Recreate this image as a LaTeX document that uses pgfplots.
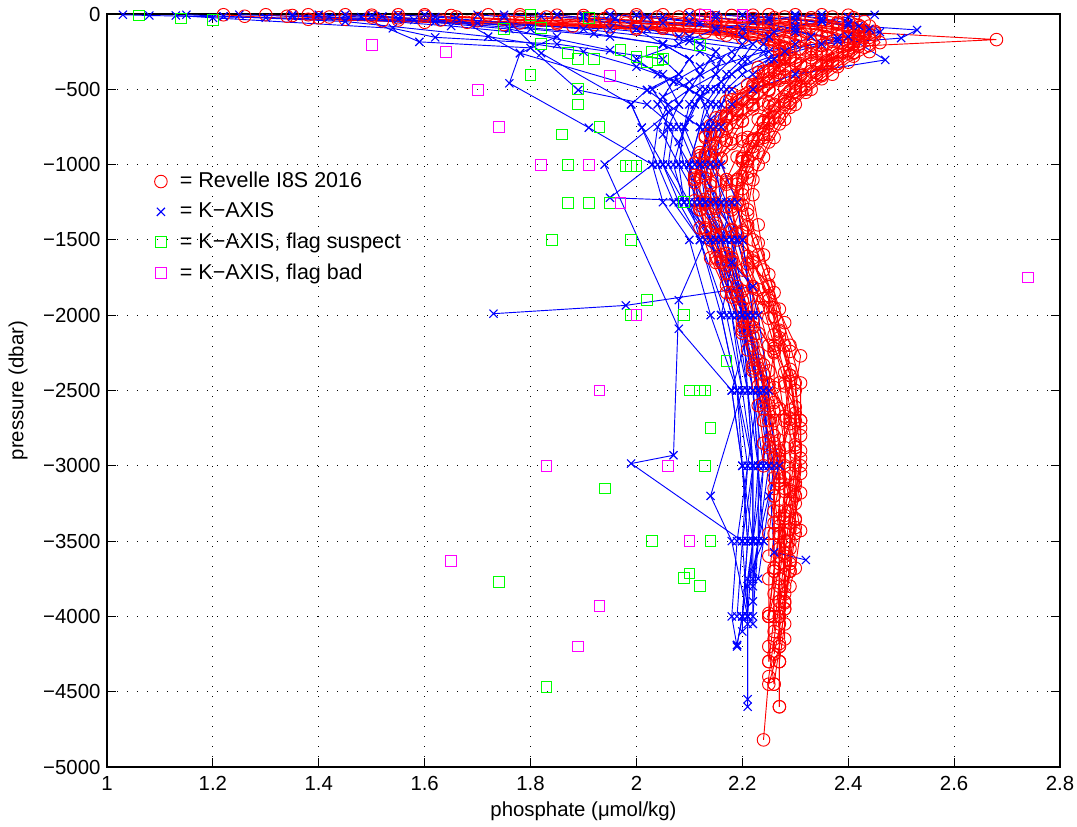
\documentclass[border=0pt]{standalone}
\usepackage{fontspec}
\setmainfont{Liberation Sans}
\usepackage{pgfplots}
\pgfplotsset{compat=1.18}
\definecolor{mred}{rgb}{1,0,0}
\definecolor{mblue}{rgb}{0,0,1}
\definecolor{mgreen}{rgb}{0,1,0}
\definecolor{mmag}{rgb}{1,0,1}
\begin{document}
\begin{tikzpicture}
\useasboundingbox (-57.78pt,-32.4pt) rectangle (523.8pt,414.18pt);
\begin{axis}[
  at={(0pt,0pt)}, anchor=south west,
  scale only axis, width=514.62pt, height=406.62pt,
  xmin=1, xmax=2.8, ymin=-5000, ymax=0,
  xtick={1,1.2,1.4,1.6,1.8,2,2.2,2.4,2.6,2.8},
  xticklabels={1,1.2,1.4,1.6,1.8,2,2.2,2.4,2.6,2.8},
  ytick={-5000,-4500,-4000,-3500,-3000,-2500,-2000,-1500,-1000,-500,0},
  yticklabels={−5000,−4500,−4000,−3500,−3000,−2500,−2000,−1500,−1000,−500,0},
  tick label style={font=\fontsize{11}{13}\selectfont},
  label style={font=\fontsize{11}{13}\selectfont},
  tick align=inside, major tick length=5pt,
  every tick/.style={black, line width=0.5pt},
  axis line style={black, line width=0.6pt},
  xticklabel style={yshift=-1.5pt},
  grid=major,
  major grid style={black, line width=0.5pt, dash pattern=on 0.55pt off 4.85pt},
  xlabel={phosphate (μmol/kg)},
  ylabel={pressure (dbar)},
  xlabel style={at={(axis description cs:0.5,-0.0585)}, anchor=center},
  ylabel style={at={(axis description cs:-0.0933,0.5)}, anchor=center, rotate=0},
  legend style={at={(0.042,0.80)}, anchor=north west, draw=none, fill=none, row sep=2.6pt, font=\fontsize{11.6}{13.5}\selectfont},
  legend cell align=left,
  legend image code/.code={\draw[#1] plot coordinates {(0pt,0pt)}; \path (-4pt,0pt) (8pt,0pt);},
  rp/.style={mred, line width=0.5pt, mark=o, mark size=3.4pt, mark options={solid, line width=0.5pt}, forget plot},
  bp/.style={mblue, line width=0.5pt, mark=x, mark size=3.1pt, mark options={solid, line width=0.6pt}, forget plot},
]
\addlegendimage{only marks, mred, mark=o, mark size=3.4pt, line width=0.5pt}
\addlegendentry{= Revelle I8S 2016}
\addlegendimage{only marks, mblue, mark=x, mark size=3.1pt, line width=0.6pt}
\addlegendentry{= K−AXIS}
\addlegendimage{only marks, mgreen, mark=square, mark size=2.9pt, line width=0.5pt}
\addlegendentry{= K−AXIS, flag suspect}
\addlegendimage{only marks, mmag, mark=square, mark size=2.9pt, line width=0.5pt}
\addlegendentry{= K−AXIS, flag bad}

% ---------------- Revelle I8S 2016 ----------------
\addplot[rp] coordinates {(2.05,-5)(2.08,-20)(2.15,-45)(2.30,-70)(2.38,-100)(2.42,-130)(2.44,-170)(2.43,-220)(2.41,-280)(2.38,-350)(2.35,-430)(2.32,-520)(2.29,-620)(2.27,-730)(2.25,-850)(2.23,-1000)(2.22,-1200)(2.23,-1400)(2.24,-1600)(2.26,-1850)(2.27,-2100)(2.29,-2400)(2.30,-2700)(2.30,-3000)(2.29,-3300)(2.28,-3600)(2.27,-3900)(2.27,-4180)};
\addplot[rp] coordinates {(2.12,-8)(2.15,-25)(2.25,-50)(2.36,-80)(2.42,-110)(2.45,-140)(2.46,-190)(2.44,-250)(2.40,-320)(2.37,-400)(2.33,-500)(2.30,-600)(2.28,-700)(2.26,-820)(2.24,-950)(2.22,-1100)(2.21,-1300)(2.22,-1500)(2.24,-1700)(2.26,-1950)(2.28,-2200)(2.30,-2450)(2.31,-2750)(2.31,-3050)(2.30,-3350)(2.29,-3650)(2.28,-3950)(2.27,-4200)(2.25,-4450)};
\addplot[rp] coordinates {(2.25,-5)(2.28,-20)(2.33,-40)(2.38,-65)(2.41,-95)(2.43,-130)(2.42,-180)(2.40,-240)(2.37,-310)(2.34,-390)(2.31,-480)(2.28,-580)(2.26,-690)(2.24,-800)(2.22,-930)(2.20,-1080)(2.19,-1250)(2.20,-1450)(2.22,-1650)(2.25,-1900)(2.27,-2150)(2.29,-2400)(2.30,-2650)(2.31,-2900)(2.30,-3200)(2.29,-3500)(2.28,-3800)(2.28,-4050)(2.27,-4300)(2.27,-4600)};
\addplot[rp] coordinates {(2.30,-5)(2.33,-25)(2.38,-55)(2.42,-90)(2.45,-125)(2.68,-170)(2.44,-210)(2.41,-260)(2.38,-330)(2.35,-410)(2.32,-500)(2.29,-590)(2.27,-690)(2.25,-800)(2.23,-920)(2.21,-1050)(2.20,-1200)(2.21,-1400)(2.23,-1600)(2.25,-1800)(2.28,-2050)(2.31,-2270)(2.30,-2500)(2.31,-2800)(2.31,-3000)(2.30,-3250)(2.31,-3430)(2.30,-3680)(2.29,-3800)};
\addplot[rp] coordinates {(2.18,-10)(2.22,-30)(2.30,-55)(2.37,-85)(2.40,-120)(2.41,-160)(2.40,-210)(2.38,-270)(2.35,-340)(2.32,-420)(2.29,-510)(2.26,-610)(2.24,-720)(2.22,-840)(2.20,-980)(2.19,-1130)(2.18,-1300)(2.19,-1500)(2.21,-1700)(2.24,-1950)(2.26,-2200)(2.28,-2450)(2.29,-2750)(2.29,-3050)(2.28,-3350)(2.27,-3650)(2.26,-3850)(2.25,-4000)};
\addplot[rp] coordinates {(1.95,-5)(2.00,-20)(2.10,-45)(2.25,-75)(2.34,-105)(2.38,-140)(2.39,-190)(2.37,-250)(2.34,-320)(2.31,-400)(2.28,-490)(2.25,-590)(2.23,-700)(2.21,-820)(2.19,-950)(2.17,-1100)(2.17,-1280)(2.18,-1480)(2.20,-1700)(2.23,-1950)(2.25,-2200)(2.27,-2450)(2.28,-2700)(2.28,-3000)(2.28,-3300)(2.27,-3600)(2.27,-3900)(2.26,-4150)(2.25,-4400)(2.24,-4820)};
\addplot[rp] coordinates {(1.85,-8)(1.90,-25)(2.02,-50)(2.18,-80)(2.30,-110)(2.35,-150)(2.36,-200)(2.34,-260)(2.31,-330)(2.28,-410)(2.25,-500)(2.22,-600)(2.20,-710)(2.18,-830)(2.16,-960)(2.15,-1110)(2.15,-1280)(2.16,-1460)(2.18,-1650)(2.21,-1880)(2.23,-2120)(2.25,-2370)(2.27,-2620)(2.28,-2880)(2.28,-3150)(2.28,-3450)(2.27,-3750)(2.27,-4000)(2.27,-4300)(2.27,-4600)};
\addplot[rp] coordinates {(1.72,-5)(1.78,-20)(1.92,-45)(2.10,-75)(2.24,-105)(2.31,-140)(2.33,-185)(2.32,-240)(2.30,-310)(2.27,-390)(2.24,-480)(2.21,-580)(2.18,-690)(2.16,-810)(2.14,-940)(2.13,-1090)(2.13,-1260)(2.14,-1440)(2.16,-1640)(2.19,-1870)(2.21,-2100)(2.23,-2350)(2.25,-2600)(2.26,-2850)(2.27,-3100)(2.27,-3400)(2.26,-3700)(2.25,-4000)(2.25,-4300)};
\addplot[rp] coordinates {(1.60,-5)(1.66,-20)(1.82,-40)(2.02,-65)(2.18,-95)(2.27,-130)(2.31,-175)(2.31,-230)(2.29,-300)(2.26,-380)(2.23,-470)(2.20,-570)(2.17,-680)(2.15,-800)(2.13,-930)(2.12,-1080)(2.12,-1250)(2.13,-1430)(2.15,-1620)(2.18,-1850)(2.20,-2080)(2.22,-2330)(2.24,-2580)(2.25,-2830)(2.26,-3080)(2.26,-3380)(2.26,-3680)(2.25,-3980)(2.25,-4200)(2.26,-4450)};
\addplot[rp] coordinates {(1.50,-8)(1.55,-25)(1.70,-45)(1.92,-70)(2.10,-100)(2.22,-135)(2.28,-180)(2.29,-235)(2.28,-300)(2.25,-380)(2.22,-470)(2.19,-570)(2.16,-680)(2.14,-800)(2.12,-940)(2.11,-1100)(2.12,-1270)(2.13,-1450)(2.15,-1650)(2.18,-1880)(2.20,-2120)(2.22,-2370)(2.24,-2620)(2.25,-2880)(2.26,-3150)(2.26,-3450)(2.25,-3750)(2.25,-4000)};
\addplot[rp] coordinates {(1.45,-5)(1.50,-20)(1.63,-40)(1.85,-65)(2.05,-95)(2.19,-130)(2.26,-175)(2.28,-230)(2.27,-300)(2.24,-380)(2.21,-470)(2.18,-570)(2.15,-690)(2.13,-820)(2.12,-960)(2.11,-1120)(2.12,-1300)(2.14,-1500)(2.17,-1720)(2.20,-1950)(2.22,-2200)(2.24,-2450)(2.25,-2700)(2.26,-2950)(2.26,-3200)(2.25,-3450)(2.25,-3600)};
\addplot[rp] coordinates {(1.38,-5)(1.42,-20)(1.55,-40)(1.78,-60)(2.00,-90)(2.16,-125)(2.25,-170)(2.28,-225)(2.28,-290)(2.26,-370)(2.23,-460)(2.20,-560)(2.17,-670)(2.14,-790)(2.12,-920)(2.11,-1070)(2.11,-1240)(2.12,-1420)(2.14,-1620)(2.17,-1850)(2.20,-2100)(2.22,-2350)(2.23,-2600)(2.24,-2850)(2.24,-3000)};
\addplot[rp] coordinates {(1.30,-5)(1.34,-15)(1.45,-35)(1.68,-55)(1.95,-85)(2.13,-120)(2.24,-165)(2.28,-220)(2.29,-285)(2.27,-360)(2.25,-450)(2.22,-550)(2.19,-660)(2.16,-780)(2.14,-910)(2.13,-1060)(2.13,-1230)(2.15,-1410)(2.17,-1610)(2.20,-1840)(2.22,-2080)(2.24,-2330)(2.26,-2580)(2.27,-2830)(2.28,-3080)(2.28,-3330)(2.28,-3580)(2.28,-3850)(2.28,-4150)};
\addplot[rp] coordinates {(1.22,-5)(1.26,-15)(1.38,-35)(1.60,-55)(1.88,-80)(2.08,-115)(2.20,-160)(2.26,-210)(2.28,-270)(2.27,-340)(2.25,-430)(2.22,-530)(2.19,-640)(2.17,-760)(2.15,-890)(2.14,-1040)(2.14,-1210)(2.15,-1390)(2.17,-1590)(2.19,-1810)(2.21,-2050)(2.23,-2300)(2.25,-2550)(2.26,-2800)(2.27,-3050)(2.27,-3300)(2.27,-3550)(2.27,-3800)(2.27,-4050)(2.27,-4300)};
\addplot[rp] coordinates {(2.35,-5)(2.37,-20)(2.40,-45)(2.42,-75)(2.43,-110)(2.42,-150)(2.40,-200)(2.37,-260)(2.34,-330)(2.31,-410)(2.28,-500)(2.26,-600)(2.24,-710)(2.22,-830)(2.20,-960)(2.19,-1100)(2.19,-1260)(2.20,-1440)(2.22,-1640)(2.25,-1870)(2.27,-2110)(2.29,-2360)(2.30,-2610)(2.30,-2860)(2.30,-3110)(2.30,-3360)(2.29,-3550)(2.29,-3700)};
\addplot[rp] coordinates {(2.40,-8)(2.41,-25)(2.43,-50)(2.44,-80)(2.45,-115)(2.44,-155)(2.42,-200)(2.39,-250)(2.36,-310)(2.33,-380)(2.30,-460)(2.28,-550)(2.26,-650)(2.24,-760)(2.22,-880)(2.21,-1010)(2.20,-1160)(2.21,-1330)(2.23,-1520)(2.25,-1730)(2.27,-1960)(2.29,-2200)(2.31,-2450)(2.31,-2700)(2.31,-2950)(2.30,-3200)(2.30,-3450)(2.29,-3700)(2.28,-3950)(2.27,-4200)(2.26,-4450)};
\addplot[rp] coordinates {(1.65,-10)(1.70,-30)(1.85,-55)(2.05,-85)(2.20,-120)(2.29,-160)(2.33,-210)(2.33,-270)(2.31,-340)(2.28,-420)(2.25,-510)(2.22,-610)(2.19,-720)(2.17,-840)(2.15,-970)(2.14,-1120)(2.14,-1290)(2.15,-1470)(2.17,-1670)(2.20,-1900)(2.22,-2140)(2.24,-2390)(2.26,-2640)(2.27,-2900)(2.28,-3170)(2.27,-3450)(2.27,-3750)(2.26,-4100)};
\addplot[rp] coordinates {(2.00,-5)(2.04,-20)(2.14,-45)(2.28,-75)(2.36,-110)(2.40,-150)(2.41,-200)(2.40,-260)(2.37,-330)(2.34,-410)(2.31,-500)(2.28,-600)(2.25,-710)(2.23,-830)(2.21,-960)(2.19,-1110)(2.18,-1280)(2.19,-1460)(2.21,-1660)(2.24,-1890)(2.26,-2130)(2.28,-2380)(2.29,-2630)(2.30,-2880)(2.30,-3130)(2.29,-3380)(2.29,-3630)(2.28,-3900)};
\addplot[rp] coordinates {(1.78,-5)(1.83,-20)(1.98,-40)(2.15,-70)(2.27,-100)(2.34,-135)(2.37,-180)(2.33,-230)(2.33,-290)(2.28,-360)(2.27,-440)(2.22,-530)(2.22,-630)(2.17,-740)(2.18,-860)(2.14,-990)(2.17,-1130)(2.15,-1290)(2.19,-1460)(2.18,-1640)(2.23,-1830)(2.22,-2030)(2.26,-2240)(2.25,-2460)(2.29,-2690)(2.27,-2930)(2.29,-3170)(2.27,-3350)(2.28,-3500)};
\addplot[rp] coordinates {(2.22,-8)(2.26,-25)(2.35,-50)(2.40,-85)(2.43,-120)(2.40,-165)(2.42,-215)(2.36,-275)(2.36,-345)(2.30,-425)(2.30,-515)(2.25,-615)(2.25,-725)(2.20,-845)(2.21,-975)(2.17,-1115)(2.20,-1270)(2.18,-1440)(2.22,-1620)(2.22,-1810)(2.26,-2010)(2.26,-2220)(2.29,-2440)(2.28,-2670)(2.30,-2910)(2.29,-3160)(2.30,-3410)(2.28,-3660)(2.28,-3910)(2.26,-4250)};
\addplot[rp] coordinates {(1.55,-5)(1.60,-15)(1.75,-35)(1.98,-60)(2.15,-90)(2.25,-125)(2.30,-170)(2.27,-225)(2.29,-285)(2.23,-355)(2.24,-440)(2.18,-530)(2.19,-630)(2.14,-740)(2.15,-860)(2.11,-990)(2.14,-1140)(2.12,-1300)(2.16,-1470)(2.16,-1650)(2.20,-1840)(2.20,-2040)(2.23,-2250)(2.23,-2470)(2.26,-2700)(2.25,-2940)(2.27,-3120)(2.26,-3300)};
\addplot[rp] coordinates {(2.10,-5)(2.14,-25)(2.22,-50)(2.33,-80)(2.39,-115)(2.43,-155)(2.41,-200)(2.41,-255)(2.36,-320)(2.35,-400)(2.30,-490)(2.29,-590)(2.25,-700)(2.24,-820)(2.20,-950)(2.21,-1090)(2.18,-1250)(2.21,-1420)(2.21,-1610)(2.25,-1810)(2.25,-2020)(2.29,-2240)(2.28,-2470)(2.31,-2700)(2.29,-2940)(2.31,-3180)(2.29,-3420)(2.29,-3700)(2.27,-4000)};
\addplot[rp] coordinates {(1.90,-10)(1.94,-30)(2.06,-55)(2.22,-85)(2.32,-120)(2.36,-160)(2.35,-210)(2.35,-265)(2.30,-330)(2.30,-410)(2.25,-500)(2.24,-600)(2.20,-710)(2.20,-830)(2.16,-960)(2.17,-1100)(2.15,-1260)(2.18,-1430)(2.18,-1620)(2.22,-1820)(2.22,-2030)(2.26,-2250)(2.26,-2480)(2.29,-2720)(2.27,-2970)(2.29,-3220)(2.27,-3470)(2.28,-3720)(2.27,-3950)};
\addplot[rp] coordinates {(1.35,-10)(1.40,-25)(1.52,-45)(1.75,-70)(2.00,-100)(2.17,-140)(2.26,-190)(2.27,-245)(2.26,-310)(2.23,-390)(2.22,-480)(2.17,-580)(2.17,-690)(2.13,-810)(2.14,-940)(2.11,-1090)(2.13,-1250)(2.13,-1420)(2.16,-1600)(2.17,-1800)(2.21,-2010)(2.21,-2230)(2.25,-2460)(2.24,-2700)(2.27,-2950)(2.26,-3200)(2.27,-3450)(2.26,-3700)(2.26,-4000)(2.25,-4300)};

% ---------------- K-AXIS ----------------
\addplot[bp] coordinates {(1.03,-5)(1.08,-10)(1.30,-25)(1.62,-50)(1.95,-100)(2.10,-150)(2.20,-200)(2.18,-300)(2.15,-400)(2.10,-500)(2.06,-600)(2.04,-750)(2.03,-1000)(2.05,-1250)(2.10,-1500)(2.14,-2000)(2.19,-2500)(2.20,-3000)(2.21,-3500)(2.20,-4000)(2.19,-4190)};
\addplot[bp] coordinates {(1.13,-10)(1.20,-25)(1.54,-95)(1.62,-155)(1.85,-200)(2.05,-300)(2.08,-400)(2.02,-505)(1.99,-600)(2.01,-755)(2.05,-1000)(2.08,-1250)(2.12,-1500)(2.17,-2000)(2.20,-2500)(2.22,-3000)(2.22,-3500)(2.21,-4000)(2.21,-4600)};
\addplot[bp] coordinates {(1.40,-5)(1.48,-20)(1.59,-185)(1.80,-225)(1.89,-505)(2.02,-600)(2.07,-750)(2.06,-1000)(2.10,-1250)(2.14,-1500)(2.18,-2000)(2.21,-2500)(2.23,-3000)(2.23,-3500)(2.22,-3750)(2.22,-4050)};
\addplot[bp] coordinates {(1.60,-5)(1.66,-25)(1.78,-260)(1.76,-460)(1.91,-755)(2.03,-1000)(1.95,-1220)(2.18,-1250)(2.16,-1500)(2.20,-2000)(2.21,-2500)(2.22,-3000)(2.22,-3500)(2.22,-3900)};
\addplot[bp] coordinates {(1.70,-5)(1.75,-20)(1.82,-260)(1.99,-600)(2.01,-755)(2.04,-1000)(2.07,-1250)(2.12,-1500)(2.18,-1650)(2.22,-1810)(1.98,-1935)(1.73,-1990)};
\addplot[bp] coordinates {(1.85,-5)(1.90,-25)(2.00,-100)(2.05,-200)(2.10,-300)(2.12,-400)(2.12,-500)(2.10,-600)(2.09,-750)(2.08,-1000)(2.09,-1250)(2.13,-1500)(2.08,-1900)(2.07,-2930)(1.99,-2985)(2.20,-3500)(2.21,-4000)};
\addplot[bp] coordinates {(2.00,-5)(2.05,-20)(2.10,-50)(2.15,-100)(2.20,-150)(2.22,-200)(2.20,-300)(2.17,-400)(2.15,-500)(2.13,-600)(2.12,-750)(2.10,-1000)(2.11,-1250)(2.14,-1500)(2.18,-2000)(2.20,-2500)(2.14,-3200)(2.18,-3500)(2.21,-4000)(2.21,-4550)};
\addplot[bp] coordinates {(2.20,-5)(2.25,-25)(2.35,-50)(2.40,-75)(2.53,-106)(2.50,-160)(2.35,-200)(2.25,-300)(2.20,-400)(2.17,-500)(2.15,-750)(2.13,-1000)(2.15,-1250)(2.17,-1500)(2.20,-2000)(2.22,-2500)(2.23,-3000)(2.23,-3500)(2.22,-3800)};
\addplot[bp] coordinates {(2.30,-5)(2.35,-30)(2.40,-60)(2.44,-100)(2.40,-150)(2.47,-305)(2.30,-400)(2.22,-500)(2.18,-600)(2.16,-750)(2.15,-1000)(2.16,-1250)(2.18,-1500)(2.21,-2000)(2.23,-2500)(2.25,-3000)(2.26,-3575)(2.32,-3625)};
\addplot[bp] coordinates {(1.90,-10)(1.96,-30)(2.02,-100)(2.08,-150)(2.12,-200)(2.15,-250)(2.14,-300)(2.12,-400)(2.10,-500)(2.08,-600)(2.06,-750)(2.05,-1000)(2.09,-1250)(2.14,-1500)(2.19,-2000)(2.22,-2500)(2.24,-3000)(2.22,-3500)(2.20,-4000)(2.19,-4190)};
\addplot[bp] coordinates {(1.50,-10)(1.58,-40)(1.80,-100)(1.95,-150)(2.05,-200)(2.12,-250)(2.16,-300)(2.15,-400)(2.13,-500)(2.11,-600)(2.09,-750)(2.07,-1000)(2.09,-1250)(2.15,-1500)(2.20,-2000)(2.23,-2500)(2.26,-3000)(2.24,-3500)(2.21,-3750)(2.21,-4050)};
\addplot[bp] coordinates {(2.10,-5)(2.15,-25)(2.22,-50)(2.30,-100)(2.33,-150)(2.30,-200)(2.26,-300)(2.22,-400)(2.18,-500)(2.16,-600)(2.14,-750)(2.12,-1000)(2.13,-1250)(2.15,-1500)(2.19,-2000)(2.21,-2500)(2.22,-3000)(2.20,-3500)(2.19,-4000)};
\addplot[bp] coordinates {(1.25,-5)(1.35,-15)(1.55,-35)(1.76,-100)(1.95,-240)(2.05,-400)(2.08,-600)(1.94,-1000)(2.08,-2090)(2.18,-2500)(2.20,-3000)(2.21,-3500)};
\addplot[bp] coordinates {(2.45,-5)(2.40,-20)(2.35,-50)(2.30,-80)(2.26,-120)(2.24,-200)(2.21,-300)(2.18,-400)(2.16,-500)(2.14,-600)(2.12,-750)(2.10,-1000)(2.12,-1250)(2.16,-1500)(2.21,-2000)(2.24,-2500)(2.27,-3000)(2.25,-3200)(2.23,-3500)};
\addplot[bp] coordinates {(1.15,-5)(1.22,-15)(1.45,-50)(1.72,-150)(1.90,-250)(2.00,-350)(2.08,-450)(2.12,-550)(2.14,-700)(2.12,-1000)(2.14,-1250)(2.18,-1500)(2.20,-2000)(2.22,-2500)(2.23,-3000)(2.22,-3500)};
\addplot[bp] coordinates {(1.35,-5)(1.42,-20)(1.65,-80)(1.85,-150)(1.78,-260)(2.02,-505)(2.12,-750)(2.16,-1000)(2.19,-1250)(2.20,-1500)(2.22,-2000)(2.24,-2500)(2.25,-3000)(2.23,-3500)(2.22,-4000)};
\addplot[bp] coordinates {(1.55,-5)(1.62,-20)(1.90,-100)(2.10,-180)(2.25,-250)(2.20,-350)(2.14,-500)(2.11,-600)(2.09,-750)(2.12,-1000)(2.15,-1250)(2.19,-1500)(2.16,-2000)(2.19,-2500)(2.21,-3000)(2.19,-3500)(2.18,-4000)(2.19,-4200)};
\addplot[bp] coordinates {(1.75,-5)(1.82,-15)(2.05,-60)(2.30,-120)(2.38,-160)(2.28,-250)(2.20,-350)(2.16,-450)(2.12,-550)(2.10,-700)(2.08,-850)(2.09,-1000)(2.13,-1250)(2.17,-1500)(2.21,-2000)(2.23,-2500)(2.21,-3000)(2.20,-3500)};
\addplot[bp] coordinates {(2.15,-5)(2.22,-20)(2.30,-40)(2.42,-80)(2.46,-120)(2.38,-180)(2.24,-250)(2.15,-350)(2.10,-450)(2.05,-550)(2.08,-750)(2.11,-1000)(2.16,-1250)(2.20,-1500)(2.22,-2000)(2.18,-2500)(2.20,-3000)(2.22,-3500)(2.21,-3800)};
\addplot[bp] coordinates {(2.35,-5)(2.30,-15)(2.25,-40)(2.15,-100)(2.08,-200)(2.00,-300)(2.04,-400)(2.10,-500)(2.15,-600)(2.13,-750)(2.14,-1000)(2.17,-1250)(2.19,-1500)(2.23,-2000)(2.25,-2500)(2.24,-3000)(2.23,-3500)(2.22,-3700)};
\addplot[bp] coordinates {(1.95,-5)(2.02,-20)(2.12,-60)(2.20,-100)(2.25,-150)(2.18,-250)(2.12,-350)(2.07,-450)(2.04,-600)(2.06,-750)(2.10,-1000)(2.10,-1250)(2.12,-1500)(2.16,-2000)(2.19,-2500)(2.22,-3000)(2.21,-3500)(2.20,-4000)(2.20,-4100)};
\addplot[bp] coordinates {(1.45,-5)(1.52,-15)(1.70,-60)(1.92,-130)(2.05,-200)(2.10,-300)(2.08,-400)(2.03,-500)(2.06,-650)(2.05,-800)(2.08,-1000)(2.12,-1250)(2.17,-1500)(2.21,-2000)(2.23,-2500)(2.23,-3000)(2.24,-3500)(2.23,-3750)};

% ---------------- flag suspect ----------------
\addplot[only marks, mgreen, mark=square, mark size=2.9pt, mark options={line width=0.5pt}, forget plot] coordinates {
(1.06,-10)(1.14,-30)(1.20,-40)(1.80,-5)(1.91,-25)(1.75,-100)(1.82,-95)(1.82,-200)
(1.87,-260)(1.89,-300)(1.92,-300)(1.97,-240)(2.00,-285)(2.03,-250)(2.02,-320)(2.04,-305)(2.05,-300)(2.12,-205)
(1.80,-405)(1.89,-500)(1.89,-600)(1.93,-750)(1.86,-800)
(1.87,-1000)(1.98,-1010)(1.99,-1010)(2.00,-1010)
(1.87,-1255)(1.91,-1255)(1.95,-1255)(2.09,-1250)
(1.84,-1500)(1.99,-1500)(2.02,-1900)(1.99,-2000)(2.09,-2000)
(2.17,-2305)(2.10,-2500)(2.12,-2500)(2.13,-2500)(2.14,-2750)(2.13,-3000)(1.94,-3150)
(2.03,-3500)(2.14,-3500)(2.10,-3715)(2.09,-3745)(2.12,-3800)(1.74,-3770)(1.83,-4470)};

% ---------------- flag bad ----------------
\addplot[only marks, mmag, mark=square, mark size=2.9pt, mark options={line width=0.5pt}, forget plot] coordinates {
(1.50,-205)(1.64,-250)(2.13,-5)(2.20,-5)(1.70,-505)(1.74,-750)(1.82,-1000)(1.91,-1000)(1.95,-410)
(1.97,-1255)(2.00,-2000)(1.93,-2500)(1.83,-3000)(2.06,-3000)(2.10,-3500)(1.65,-3630)(1.93,-3930)(1.89,-4200)(2.74,-1750)};
\end{axis}
\end{tikzpicture}
\end{document}
